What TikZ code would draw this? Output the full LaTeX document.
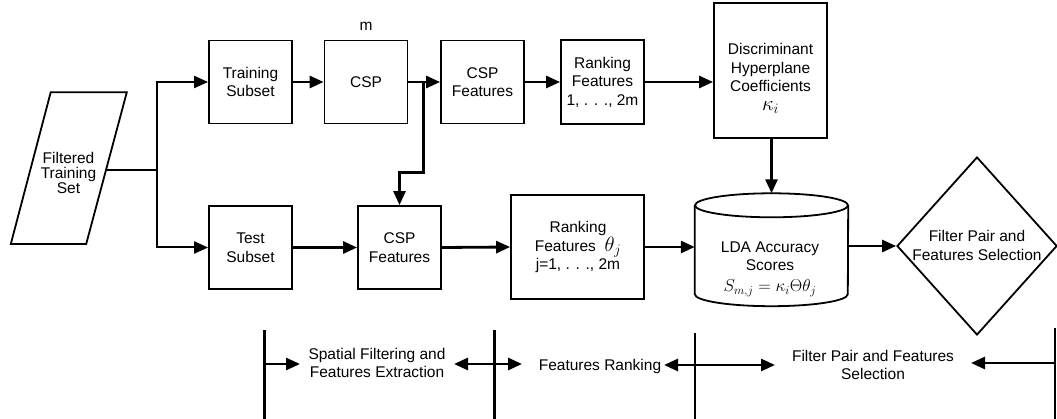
\documentclass[tikz,border=0pt]{standalone}
\usepackage{fontspec}
\setmainfont{Liberation Sans}
\usetikzlibrary{arrows.meta,shapes.geometric}
\begin{document}
\begin{tikzpicture}[x=1pt,y=-1pt,
  txt/.style={align=center, inner sep=0pt, font=\fontsize{15.5}{18.6}\selectfont},
  box/.style={draw, line width=1.8pt, minimum width=83pt, minimum height=83pt, inner sep=0pt, align=center, font=\fontsize{15.5}{18.6}\selectfont},
  arr/.style={line width=2pt, -{Triangle[length=14pt,width=12pt]}},
  thk/.style={line width=2.8pt, -{Triangle[length=14pt,width=12pt]}},
  ln/.style={line width=2pt},
  vln/.style={line width=2.6pt},
]
\useasboundingbox (0,0) rectangle (1057,419);

% input parallelogram
\draw[line width=1.8pt] (50.7,92.3) -- (126.8,92.3) -- (86.2,244) -- (10.8,244) -- cycle;
\node[txt, font=\fontsize{15.5}{15.2}\selectfont] (fts) at (68.5,173) {Filtered\\Training\\Set};
\coordinate (ftsE) at (106,170);
\coordinate (split) at (157,170);

% top row
\node[box] (ts) at (250.5,82) {Training\\Subset};
\node[box] (csp) at (366,82) {CSP};
\node[txt] (mlab) at (366,26) {m};
\node[box] (cspf1) at (482.5,82) {CSP\\Features};
\node[box, minimum height=84pt] (rank1) at (602.5,82) {Ranking\\Features\\1, . . ., 2m};
\node[box, minimum width=113pt, minimum height=135pt] (disc) at (770.5,70.3) {};
\node[txt] (disct) at (770.5,78.5) {Discriminant\\Hyperplane\\Coefficients\\{\fontsize{20}{18}\selectfont$\kappa_i$}};

% bottom row
\node[box] (test) at (250.5,247.5) {Test\\Subset};
\node[box] (cspf2) at (399.5,247.5) {CSP\\Features};
\node[box, minimum width=133pt, minimum height=104pt] (rank2) at (577.5,247) {};
\node[txt] (rank2t) at (578,247) {Ranking\\Features~~{\fontsize{20}{20}\selectfont$\theta_j$}\\j=1, . . ., 2m};

% cylinder
\node[minimum width=153pt, minimum height=112.5pt, inner sep=0pt] (cyl) at (771.5,249.75) {};
\draw[line width=1.8pt] ([yshift=-12pt]cyl.north) ellipse [x radius=76.5pt, y radius=12pt];
\draw[line width=1.8pt] ([yshift=-12pt]cyl.north west) -- ([yshift=12pt]cyl.south west)
  arc[start angle=180, end angle=360, x radius=76.5pt, y radius=12pt] -- ([yshift=-12pt]cyl.north east);
\node[txt] (cylt) at (770,269) {LDA Accuracy\\Scores\\[2pt]{\fontsize{17.5}{18}\selectfont$S_{m,j}=\kappa_i\Theta\theta_j$}};

% diamond
\node[diamond, draw, line width=1.8pt, minimum width=160pt, minimum height=178pt, inner sep=0pt] (dia) at (977,246) {};
\node[txt] (diat) at (977,245.5) {Filter Pair and\\Features Selection};

% connectors
\draw[ln] (ftsE) -- (split);
\draw[arr] (split) |- (ts.west);
\draw[arr] (split) |- (test.west);
\draw[thk] (ts.east) -- (csp.west);
\draw[thk] (csp.east) -- (cspf1.west);
\coordinate (br) at (423.6,82);
\coordinate (br1) at (423.6,172.4);
\draw[thk] (br) -- (br1) -| (cspf2.north);
\draw[thk] (cspf1.east) -- (rank1.west);
\draw[thk] (rank1.east) -- (rank1.east -| disc.west);
\draw[thk] (disc.south -| cyl.north) -- (cyl.north);
\draw[thk] (test.east) -- (cspf2.west);
\draw[thk] (cspf2.east) -- (rank2.west);
\draw[thk] (rank2.east) -- (rank2.east -| cyl.west);
\draw[thk] (cyl.east |- dia.west) -- (dia.west);

% legend
\coordinate (v1a) at (264.7,330); \coordinate (v1b) at (264.7,419);
\coordinate (v2a) at (494.6,330); \coordinate (v2b) at (494.6,419);
\coordinate (v3a) at (695,333); \coordinate (v3b) at (695,419);
\coordinate (v4a) at (1055,328); \coordinate (v4b) at (1055,419);
\draw[vln] (v1a) -- (v1b);
\draw[vln] (v2a) -- (v2b);
\draw[vln] (v3a) -- (v3b);
\draw[vln] (v4a) -- (v4b);
\node[txt] (l1) at (377,363) {Spatial Filtering and\\Features Extraction};
\node[txt] (l2) at (600,366) {Features Ranking};
\node[txt] (l3) at (873,365) {Filter Pair and Features\\Selection};
\coordinate (v1m) at (264.7,364); \coordinate (a1) at (300,364);
\coordinate (v2m) at (494.6,364); \coordinate (a2l) at (454,364); \coordinate (a2r) at (522,364);
\coordinate (v3m) at (695,365); \coordinate (a3l) at (664,365); \coordinate (a3r) at (775,365);
\coordinate (v4m) at (1055,363); \coordinate (a4) at (971,363);
\draw[thk] (v1m) -- (a1);
\draw[thk] (v2m) -- (a2l);
\draw[thk] (v2m) -- (a2r);
\draw[thk] (v3m) -- (a3l);
\draw[thk] (v3m) -- (a3r);
\draw[thk] (v4m) -- (a4);
\end{tikzpicture}
\end{document}
